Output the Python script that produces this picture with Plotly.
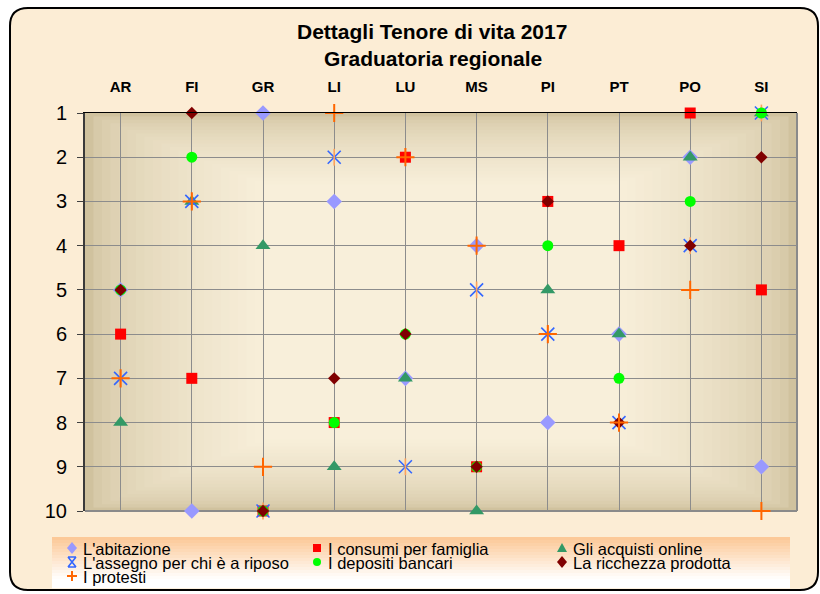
import plotly.graph_objects as go

# ---------------- data ----------------
provinces = ["AR", "FI", "GR", "LI", "LU", "MS", "PI", "PT", "PO", "SI"]
abitazione = [5, 10, 1, 3, 7, 4, 8, 6, 2, 9]
consumi = [6, 7, 10, 8, 2, 9, 3, 4, 1, 5]
acquisti = [8, 3, 4, 9, 7, 10, 5, 6, 2, 1]
assegno = [7, 3, 10, 2, 9, 5, 6, 8, 4, 1]
depositi = [5, 2, 10, 8, 6, 9, 4, 7, 3, 1]
ricchezza = [5, 1, 10, 7, 6, 9, 3, 8, 4, 2]
protesti = [7, 3, 9, 1, 2, 4, 6, 8, 5, 10]
series_names = ["L'abitazione", "I consumi per famiglia", "Gli acquisti online",
                "L'assegno per chi è a riposo", "I depositi bancari",
                "La ricchezza prodotta", "I protesti"]
rank_ticks = list(range(1, 11))
title_main = "Dettagli Tenore di vita 2017"
title_sub = "Graduatoria regionale"

# ---------------- geometry helpers ----------------
W, H = 820, 594
ML, MR, MT, MB = 85, 23, 113, 83
PW, PH = W - ML - MR, H - MT - MB


def px(x):
    return (x - ML) / PW


def py(y):
    return (H - MB - y) / PH


def mix(c0, c1, t):
    return "rgb(%d,%d,%d)" % tuple(round(a + (b - a) * t) for a, b in zip(c0, c1))


FONT = "Liberation Sans, Arial, sans-serif"
shapes = []

# outer rounded frame
x0, x1, yt, yb = px(10), px(818), py(8), py(590)
rx, ry = 18 / PW, 18 / PH
frame = (f"M {x0+rx},{yt} L {x1-rx},{yt} Q {x1},{yt} {x1},{yt-ry} L {x1},{yb+ry} "
         f"Q {x1},{yb} {x1-rx},{yb} L {x0+rx},{yb} Q {x0},{yb} {x0},{yb+ry} "
         f"L {x0},{yt-ry} Q {x0},{yt} {x0+rx},{yt} Z")
shapes.append(dict(type="path", xref="paper", yref="paper", path=frame,
                   fillcolor="#FCEDD5", line=dict(color="#000000", width=2), layer="below"))

# plot area gradient (edges tan, centre cream)
edge_c, centre_c = (208, 194, 158), (248, 239, 218)
N = 22
for i in range(N):
    f = i / (N - 1)
    t = f ** 0.55
    dx, dy = i * 8.5, i * 3.4
    shapes.append(dict(type="rect", xref="paper", yref="paper",
                       x0=px(ML + dx), x1=px(ML + PW - dx),
                       y0=py(MT + dy), y1=py(MT + PH - dy),
                       fillcolor=mix(edge_c, centre_c, t), line=dict(width=0), layer="below"))

# right and bottom plot borders
shapes.append(dict(type="line", xref="paper", yref="paper", x0=1, x1=1, y0=0, y1=1,
                   line=dict(color="#8A8A8A", width=2), layer="below"))
shapes.append(dict(type="line", xref="paper", yref="paper", x0=0, x1=1, y0=0, y1=0,
                   line=dict(color="#8A8A8A", width=2), layer="below"))

# legend box gradient
lg_top, lg_bot, lg_l, lg_r = 537, 588, 52, 790
top_c, bot_c = (252, 201, 152), (255, 255, 255)
M = 17
step = (lg_bot - lg_top) / M
for i in range(M):
    t = min(1.0, i / (M - 1) / 0.85)
    shapes.append(dict(type="rect", xref="paper", yref="paper",
                       x0=px(lg_l), x1=px(lg_r),
                       y0=py(lg_top + i * step), y1=py(lg_top + (i + 1) * step + 0.3),
                       fillcolor=mix(top_c, bot_c, t), line=dict(width=0), layer="below"))


def pth(cmds):
    out = []
    for c in cmds:
        if isinstance(c, str):
            out.append(c)
        else:
            out.append(f"{px(c[0])},{py(c[1])}")
    return " ".join(out)


def glyph(kind, cx, cy, color):
    if kind == "diamond":
        p = pth(["M", (cx, cy - 6), "L", (cx + 5, cy), "L", (cx, cy + 6), "L", (cx - 5, cy), "Z"])
        return dict(type="path", path=p, fillcolor=color, line=dict(width=0))
    if kind == "square":
        p = pth(["M", (cx - 4, cy - 4), "L", (cx + 4, cy - 4), "L", (cx + 4, cy + 4), "L", (cx - 4, cy + 4), "Z"])
        return dict(type="path", path=p, fillcolor=color, line=dict(width=0))
    if kind == "triangle":
        p = pth(["M", (cx, cy - 5), "L", (cx + 5, cy + 4), "L", (cx - 5, cy + 4), "Z"])
        return dict(type="path", path=p, fillcolor=color, line=dict(width=0))
    if kind == "circle":
        return dict(type="circle", x0=px(cx - 4), x1=px(cx + 4), y0=py(cy + 4), y1=py(cy - 4),
                    fillcolor=color, line=dict(width=0))
    if kind == "star":
        p = pth(["M", (cx - 4, cy - 5), "L", (cx + 4, cy + 5), "M", (cx + 4, cy - 5), "L", (cx - 4, cy + 5),
                 "M", (cx - 4, cy - 5), "L", (cx + 4, cy - 5), "M", (cx - 4, cy + 5), "L", (cx + 4, cy + 5)])
        return dict(type="path", path=p, line=dict(color=color, width=1.6))
    if kind == "plus":
        p = pth(["M", (cx - 5, cy), "L", (cx + 5, cy), "M", (cx, cy - 5), "L", (cx, cy + 5)])
        return dict(type="path", path=p, line=dict(color=color, width=2))


# ---------------- traces ----------------
styles = [
    dict(symbol="diamond", size=12, color="#9999FF"),
    dict(symbol="square", size=11, color="#FF0000"),
    dict(symbol="triangle-up", size=13, color="#339966"),
    dict(symbol="x-thin-open", size=13, color="#3366FF", line=dict(color="#3366FF", width=1.6)),
    dict(symbol="circle", size=11, color="#00FF00"),
    dict(symbol="diamond", size=9.5, color="#800000"),
    dict(symbol="cross-thin-open", size=13, color="#FF6600", line=dict(color="#FF6600", width=2)),
]
values = [abitazione, consumi, acquisti, assegno, depositi, ricchezza, protesti]

fig = go.Figure()
for name, vals, st in zip(series_names, values, styles):
    fig.add_trace(go.Scatter(x=provinces, y=vals, mode="markers", name=name,
                             marker=st, cliponaxis=False, showlegend=False))
    if st["symbol"] == "x-thin-open":
        fig.add_trace(go.Scatter(x=provinces, y=vals, mode="markers", name=name,
                                 marker=dict(symbol="line-ns-open", size=12,
                                             line=dict(color="#3366FF", width=1.6)),
                                 cliponaxis=False, showlegend=False, hoverinfo="skip"))

# ---------------- manual legend ----------------
glyph_kinds = ["diamond", "square", "triangle", "star", "circle", "diamond", "plus"]
glyph_cols = [s["color"] for s in styles]
col_glyph_x = [72, 317, 562]
col_text_x = [81, 326, 571]
row_y = [548, 562, 576]
annotations = []
for i, name in enumerate(series_names):
    r, c = divmod(i, 3)
    g = glyph(glyph_kinds[i], col_glyph_x[c], row_y[r], glyph_cols[i])
    g.update(xref="paper", yref="paper", layer="above")
    shapes.append(g)
    annotations.append(dict(text=name, x=px(col_text_x[c]), y=py(row_y[r] + 0.5), xref="paper", yref="paper",
                            xanchor="left", yanchor="middle", showarrow=False,
                            font=dict(family=FONT, size=16.5, color="#000000")))

annotations.append(dict(text=title_main, x=px(432), y=py(31), xref="paper", yref="paper",
                        xanchor="center", yanchor="middle", showarrow=False,
                        font=dict(family=FONT, size=21, color="#000000", weight="bold")))
annotations.append(dict(text=title_sub, x=px(433), y=py(58), xref="paper", yref="paper",
                        xanchor="center", yanchor="middle", showarrow=False,
                        font=dict(family=FONT, size=21, color="#000000", weight="bold")))

fig.update_layout(
    width=W, height=H, autosize=False,
    margin=dict(l=ML, r=MR, t=MT, b=MB, pad=0),
    paper_bgcolor="#FFFFFF", plot_bgcolor="rgba(0,0,0,0)",
    shapes=shapes, annotations=annotations, showlegend=False,
    font=dict(family=FONT, color="#000000"),
    xaxis=dict(type="category", categoryorder="array", categoryarray=provinces,
               range=[-0.5, 9.5], side="top", showgrid=True, gridcolor="#8C8C8C", gridwidth=1,
               ticks="", ticklabelstandoff=14, showline=True, linecolor="#000000", linewidth=1,
               tickfont=dict(family=FONT, size=15, color="#000000", weight="bold"),
               zeroline=False, fixedrange=True),
    yaxis=dict(range=[10, 1], tickmode="array", tickvals=rank_ticks,
               ticktext=[str(v) for v in rank_ticks], showgrid=True, gridcolor="#8C8C8C",
               gridwidth=1, ticks="outside", ticklen=6, tickcolor="#404040", tickwidth=1,
               ticklabelstandoff=6, showline=True, linecolor="#3A3A3A", linewidth=2,
               tickfont=dict(family=FONT, size=20, color="#000000"),
               zeroline=False, fixedrange=True),
)

fig.write_html("out.html", config={"displayModeBar": False},
               post_script="document.body.style.margin='0';document.body.style.overflow='hidden';")
